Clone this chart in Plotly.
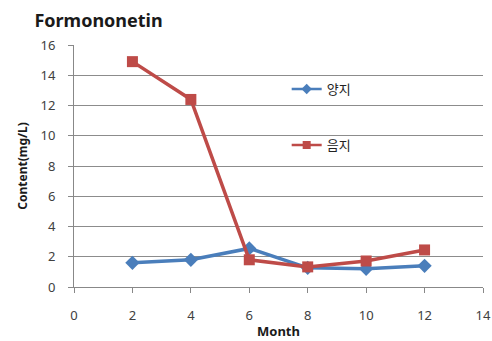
import plotly.graph_objects as go

months = [2, 4, 6, 8, 10, 12]
yangji = [1.6, 1.8, 2.55, 1.27, 1.2, 1.4]
eumji = [14.9, 12.4, 1.8, 1.33, 1.72, 2.45]
series_names = ["양지", "음지"]
title_text = "Formononetin"
x_title = "Month"
y_title = "Content(mg/L)"

font_main = "Noto Sans, Noto Sans CJK KR, sans-serif"
colors = ["#4A7EBB", "#BE4B48"]
symbols = ["diamond", "square"]

fig = go.Figure()
for i, vals in enumerate([yangji, eumji]):
    fig.add_trace(go.Scatter(
        x=months, y=vals, name=series_names[i], mode="lines+markers",
        line=dict(color=colors[i], width=3.5),
        marker=dict(symbol=symbols[i], size=11, color=colors[i]),
        showlegend=False,
    ))
# legend entries with smaller markers
for i in range(2):
    fig.add_trace(go.Scatter(
        x=[None], y=[None], name=series_names[i], mode="lines+markers",
        line=dict(color=colors[i], width=2.5),
        marker=dict(symbol=symbols[i], size=8, color=colors[i]),
        legendgroup=f"g{i}", showlegend=True,
    ))

fig.update_layout(
    width=492, height=341,
    margin=dict(l=74, r=9, t=45, b=54, autoexpand=False),
    paper_bgcolor="white", plot_bgcolor="white",
    font=dict(family=font_main, color="#404040", size=12),
    title=dict(text=f"<b>{title_text}</b>", x=0.07, xanchor="left", y=0.94, yanchor="middle",
               font=dict(size=18, color="#1a1a1a", family=font_main)),
    showlegend=True,
    legend=dict(x=0.52, y=0.88, xanchor="left", yanchor="top",
                bgcolor="rgba(0,0,0,0)", tracegroupgap=36,
                font=dict(size=13, color="#222", family="Noto Sans CJK KR, sans-serif"),
                itemwidth=30),
    xaxis=dict(range=[0, 14], dtick=2, tick0=0, showgrid=False, automargin=False,
               showline=True, linecolor="#888", linewidth=1,
               ticks="outside", ticklen=5, tickcolor="#888", ticklabelstandoff=11,
               tickfont=dict(size=13, color="#404040"),
               title=dict(text=f"<b>{x_title}</b>", font=dict(size=13, color="#1a1a1a"), standoff=4),
               zeroline=False),
    yaxis=dict(range=[0, 16], dtick=2, tick0=0, showgrid=True, gridcolor="#8c8c8c", gridwidth=1,
               automargin=False,
               showline=True, linecolor="#888", linewidth=1,
               ticks="outside", ticklen=5, tickcolor="#888", ticklabelstandoff=10,
               tickfont=dict(size=13, color="#404040"),
               title=dict(text=f"<b>{y_title}</b>", font=dict(size=12, color="#1a1a1a"), standoff=10),
               zeroline=False),
)

fig.write_html("out.html")
